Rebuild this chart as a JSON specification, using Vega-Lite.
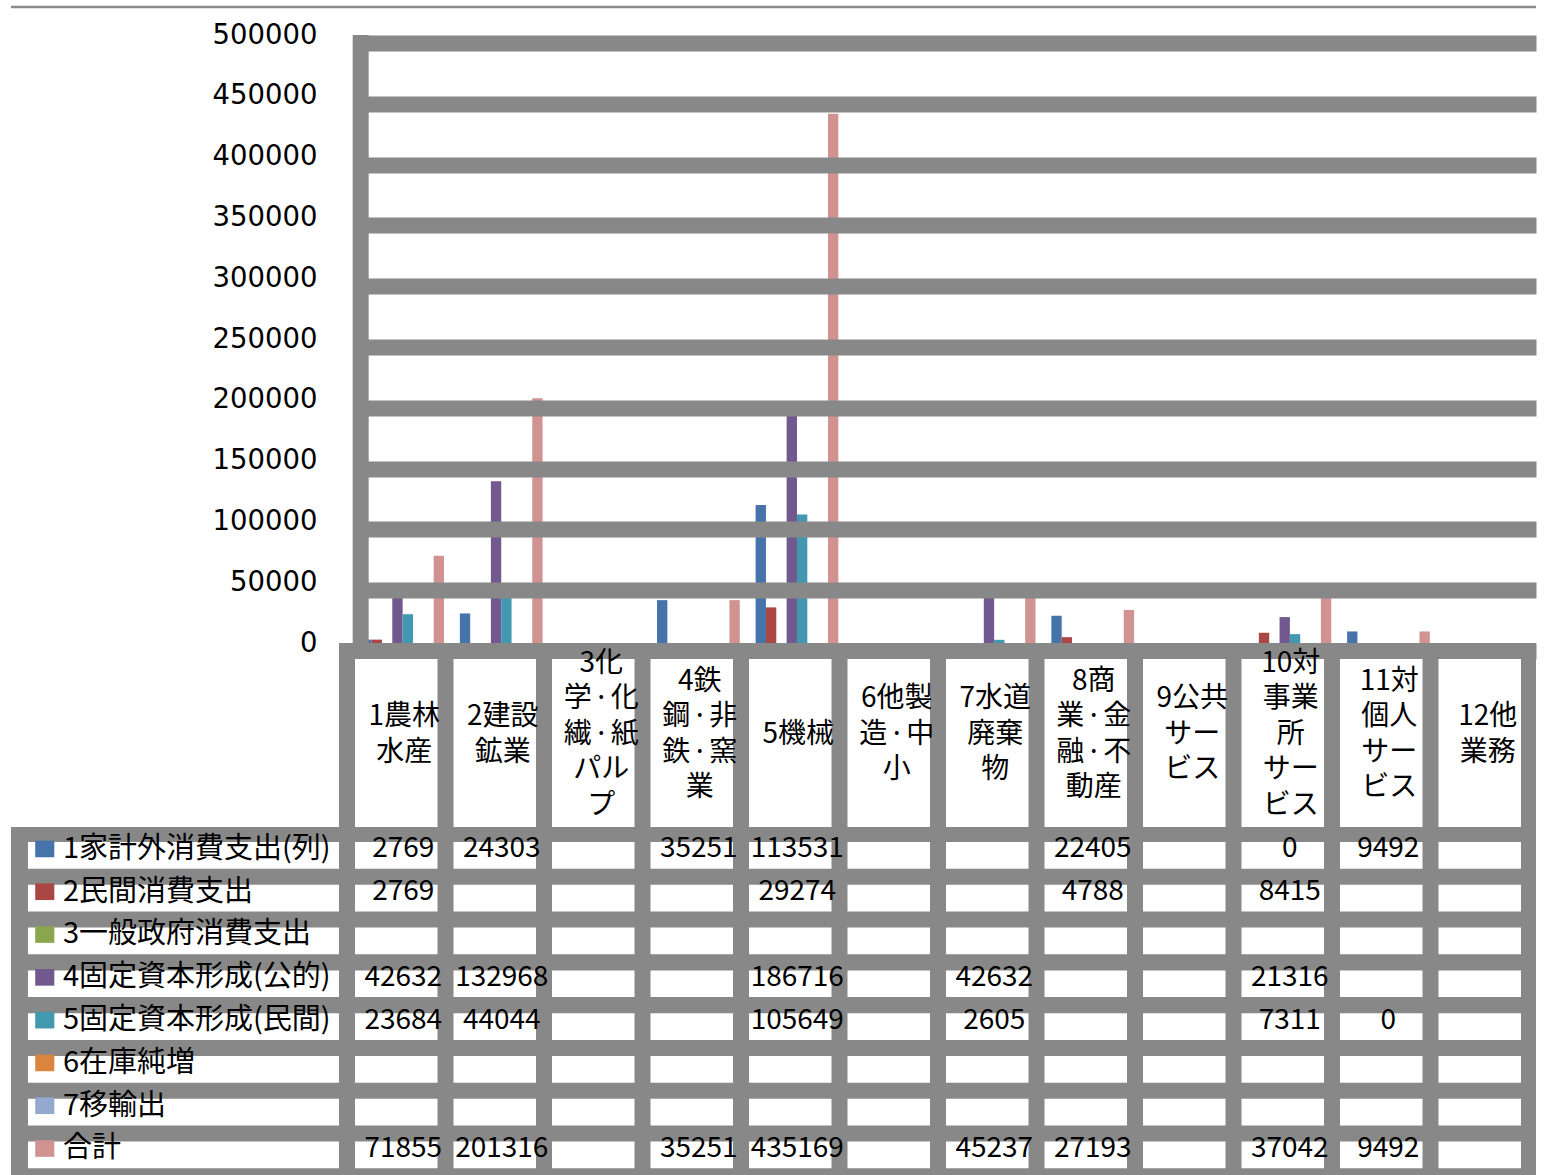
{
  "$schema": "https://vega.github.io/schema/vega-lite/v6.json",
  "padding": {"left": 9, "top": 0, "right": 0, "bottom": 0},
  "background": "white",
  "config": {
    "view": {"stroke": null},
    "font": "Noto Sans CJK JP",
    "text": {"font": "Noto Sans CJK JP", "color": "#000000"}
  },
  "datasets": {
    "series": [
      {"s": "1家計外消費支出(列)"}, {"s": "2民間消費支出"}, {"s": "3一般政府消費支出"}, {"s": "4固定資本形成(公的)"},
      {"s": "5固定資本形成(民間)"}, {"s": "6在庫純増"}, {"s": "7移輸出"}, {"s": "合計"}
    ],
    "cats": [
      {"c": "1農林水産", "label": ["1農林", "水産"]},
      {"c": "2建設鉱業", "label": ["2建設", "鉱業"]},
      {"c": "3化学・化繊・紙パルプ", "label": ["3化", "学\u200a·\u200a化", "繊\u200a·\u200a紙", "パル", "プ"]},
      {"c": "4鉄鋼・非鉄・窯業", "label": ["4鉄", "鋼\u200a·\u200a非", "鉄\u200a·\u200a窯", "業"]},
      {"c": "5機械", "label": ["5機械"]},
      {"c": "6他製造・中小", "label": ["6他製", "造\u200a·\u200a中", "小"]},
      {"c": "7水道廃棄物", "label": ["7水道", "廃棄", "物"]},
      {"c": "8商業・金融・不動産", "label": ["8商", "業\u200a·\u200a金", "融\u200a·\u200a不", "動産"]},
      {"c": "9公共サービス", "label": ["9公共", "サー", "ビス"]},
      {"c": "10対事業所サービス", "label": ["10対", "事業", "所", "サー", "ビス"]},
      {"c": "11対個人サービス", "label": ["11対", "個人", "サー", "ビス"]},
      {"c": "12他業務", "label": ["12他", "業務"]}
    ],
    "table": [
      {"c": "1農林水産", "1家計外消費支出(列)": 2769, "2民間消費支出": 2769, "3一般政府消費支出": null, "4固定資本形成(公的)": 42632, "5固定資本形成(民間)": 23684, "6在庫純増": null, "7移輸出": null, "合計": 71855},
      {"c": "2建設鉱業", "1家計外消費支出(列)": 24303, "2民間消費支出": null, "3一般政府消費支出": null, "4固定資本形成(公的)": 132968, "5固定資本形成(民間)": 44044, "6在庫純増": null, "7移輸出": null, "合計": 201316},
      {"c": "3化学・化繊・紙パルプ", "1家計外消費支出(列)": null, "2民間消費支出": null, "3一般政府消費支出": null, "4固定資本形成(公的)": null, "5固定資本形成(民間)": null, "6在庫純増": null, "7移輸出": null, "合計": null},
      {"c": "4鉄鋼・非鉄・窯業", "1家計外消費支出(列)": 35251, "2民間消費支出": null, "3一般政府消費支出": null, "4固定資本形成(公的)": null, "5固定資本形成(民間)": null, "6在庫純増": null, "7移輸出": null, "合計": 35251},
      {"c": "5機械", "1家計外消費支出(列)": 113531, "2民間消費支出": 29274, "3一般政府消費支出": null, "4固定資本形成(公的)": 186716, "5固定資本形成(民間)": 105649, "6在庫純増": null, "7移輸出": null, "合計": 435169},
      {"c": "6他製造・中小", "1家計外消費支出(列)": null, "2民間消費支出": null, "3一般政府消費支出": null, "4固定資本形成(公的)": null, "5固定資本形成(民間)": null, "6在庫純増": null, "7移輸出": null, "合計": null},
      {"c": "7水道廃棄物", "1家計外消費支出(列)": null, "2民間消費支出": null, "3一般政府消費支出": null, "4固定資本形成(公的)": 42632, "5固定資本形成(民間)": 2605, "6在庫純増": null, "7移輸出": null, "合計": 45237},
      {"c": "8商業・金融・不動産", "1家計外消費支出(列)": 22405, "2民間消費支出": 4788, "3一般政府消費支出": null, "4固定資本形成(公的)": null, "5固定資本形成(民間)": null, "6在庫純増": null, "7移輸出": null, "合計": 27193},
      {"c": "9公共サービス", "1家計外消費支出(列)": null, "2民間消費支出": null, "3一般政府消費支出": null, "4固定資本形成(公的)": null, "5固定資本形成(民間)": null, "6在庫純増": null, "7移輸出": null, "合計": null},
      {"c": "10対事業所サービス", "1家計外消費支出(列)": 0, "2民間消費支出": 8415, "3一般政府消費支出": null, "4固定資本形成(公的)": 21316, "5固定資本形成(民間)": 7311, "6在庫純増": null, "7移輸出": null, "合計": 37042},
      {"c": "11対個人サービス", "1家計外消費支出(列)": 9492, "2民間消費支出": null, "3一般政府消費支出": null, "4固定資本形成(公的)": null, "5固定資本形成(民間)": 0, "6在庫純増": null, "7移輸出": null, "合計": 9492},
      {"c": "12他業務", "1家計外消費支出(列)": null, "2民間消費支出": null, "3一般政府消費支出": null, "4固定資本形成(公的)": null, "5固定資本形成(民間)": null, "6在庫純増": null, "7移輸出": null, "合計": null}
    ]
  },
  "columns": 2,
  "spacing": 0,
  "bounds": "flush",
  "align": "each",
  "resolve": {"scale": {"x": "independent", "y": "independent", "color": "independent"}},
  "concat": [
    {
      "width": 342,
      "height": 643,
      "data": {"values": [{}]},
      "mark": {"type": "rule", "color": "#8a8a8a", "strokeWidth": 2.5},
      "encoding": {
        "y": {"datum": 523000, "type": "quantitative", "scale": {"domain": [0, 528800], "nice": false}, "axis": null}
      }
    },
    {
      "width": 1183,
      "height": 643,
      "layer": [
        {
          "data": {"name": "table"},
          "transform": [
            {"fold": ["1家計外消費支出(列)", "2民間消費支出", "3一般政府消費支出", "4固定資本形成(公的)", "5固定資本形成(民間)", "6在庫純増", "7移輸出", "合計"], "as": ["s", "v"]},
            {"filter": "datum.v != null"}
          ],
          "mark": {"type": "bar"},
          "encoding": {
            "x": {
              "field": "c", "type": "nominal",
              "scale": {"domain": ["1農林水産", "2建設鉱業", "3化学・化繊・紙パルプ", "4鉄鋼・非鉄・窯業", "5機械", "6他製造・中小", "7水道廃棄物", "8商業・金融・不動産", "9公共サービス", "10対事業所サービス", "11対個人サービス", "12他業務"], "paddingInner": 0, "paddingOuter": 0},
              "axis": null
            },
            "xOffset": {
              "field": "s", "type": "nominal",
              "scale": {"domain": ["1家計外消費支出(列)", "2民間消費支出", "3一般政府消費支出", "4固定資本形成(公的)", "5固定資本形成(民間)", "6在庫純増", "7移輸出", "合計"], "paddingInner": 0, "paddingOuter": 0.767, "align": 0.522}
            },
            "y": {
              "field": "v", "type": "quantitative",
              "scale": {"domain": [0, 528800], "nice": false, "zero": true},
              "axis": {
                "values": [0, 50000, 100000, 150000, 200000, 250000, 300000, 350000, 400000, 450000, 500000],
                "format": "d",
                "title": null,
                "grid": true,
                "gridColor": "#888888",
                "gridWidth": 16,
                "gridOpacity": 1,
                "tickOffset": 8,
                "labelOffset": -8,
                "domain": false,
                "ticks": false,
                "tickSize": 0,
                "labelPadding": 36,
                "labelFont": "DejaVu Sans",
                "labelFontSize": 27.5,
                "labelColor": "#000000",
                "zindex": 1
              }
            },
            "color": {
              "field": "s", "type": "nominal",
              "scale": {"domain": ["1家計外消費支出(列)", "2民間消費支出", "3一般政府消費支出", "4固定資本形成(公的)", "5固定資本形成(民間)", "6在庫純増", "7移輸出", "合計"], "range": ["#4674AA", "#AA4643", "#89A54E", "#71588F", "#4198AF", "#DB843D", "#93A9CF", "#D19392"]},
              "legend": null
            }
          }
        },
        {
          "data": {"values": [{}]},
          "mark": {"type": "rule", "color": "#888888", "strokeWidth": 16},
          "encoding": {
            "x": {"datum": "1農林水産", "type": "nominal", "bandPosition": 0.078},
            "y": {"datum": 500000, "type": "quantitative"},
            "y2": {"datum": 0}
          }
        },
        {
          "data": {"values": [{}]},
          "mark": {"type": "rule", "color": "#8a8a8a", "strokeWidth": 2.5},
          "encoding": {"y": {"datum": 523000, "type": "quantitative"}}
        }
      ]
    },
    {
      "width": 342,
      "height": 184,
      "data": {"values": [{}]},
      "mark": {"type": "rule", "color": "#888888", "strokeWidth": 28},
      "encoding": {
        "x": {"datum": 1, "type": "quantitative", "scale": {"domain": [0, 1]}, "axis": null}
      }
    },
    {
      "width": 1183,
      "height": 184,
      "view": {"fill": "#888888"},
      "data": {"name": "cats"},
      "encoding": {
        "x": {
          "field": "c", "type": "nominal",
          "scale": {"domain": ["1農林水産", "2建設鉱業", "3化学・化繊・紙パルプ", "4鉄鋼・非鉄・窯業", "5機械", "6他製造・中小", "7水道廃棄物", "8商業・金融・不動産", "9公共サービス", "10対事業所サービス", "11対個人サービス", "12他業務"], "paddingInner": 0.1624, "paddingOuter": 0.0863, "align": 0.118},
          "axis": null
        },
        "y": {"datum": "h", "type": "nominal", "scale": {"domain": ["h"], "paddingInner": 0, "paddingOuter": 0.0476, "align": 1}, "axis": null}
      },
      "layer": [
        {"mark": {"type": "rect", "color": "white"}},
        {
          "transform": [{"filter": "length(datum.label) == 1"}],
          "mark": {"type": "text", "fontSize": 28, "lineHeight": 35.5, "dx": 8, "dy": -8, "baseline": "middle"},
          "encoding": {"text": {"field": "label"}}
        },
        {
          "transform": [{"filter": "length(datum.label) == 2"}],
          "mark": {"type": "text", "fontSize": 28, "lineHeight": 35.5, "dx": 8, "dy": -25.75, "baseline": "middle"},
          "encoding": {"text": {"field": "label"}}
        },
        {
          "transform": [{"filter": "length(datum.label) == 3"}],
          "mark": {"type": "text", "fontSize": 28, "lineHeight": 35.5, "dx": 8, "dy": -43.5, "baseline": "middle"},
          "encoding": {"text": {"field": "label"}}
        },
        {
          "transform": [{"filter": "length(datum.label) == 4"}],
          "mark": {"type": "text", "fontSize": 28, "lineHeight": 35.5, "dx": 8, "dy": -61.25, "baseline": "middle"},
          "encoding": {"text": {"field": "label"}}
        },
        {
          "transform": [{"filter": "length(datum.label) == 5"}],
          "mark": {"type": "text", "fontSize": 28, "lineHeight": 35.5, "dx": 8, "dy": -79, "baseline": "middle"},
          "encoding": {"text": {"field": "label"}}
        }
      ]
    },
    {
      "width": 342,
      "height": 349,
      "view": {"fill": "#888888"},
      "data": {"name": "series"},
      "layer": [
        {
          "mark": {"type": "rect", "color": "white"},
          "encoding": {
            "x": {"datum": "L", "type": "nominal", "scale": {"domain": ["L"], "paddingInner": 0, "paddingOuter": 0.0498, "align": 0.548}, "axis": null},
            "y": {
              "field": "s", "type": "nominal",
              "scale": {"domain": ["1家計外消費支出(列)", "2民間消費支出", "3一般政府消費支出", "4固定資本形成(公的)", "5固定資本形成(民間)", "6在庫純増", "7移輸出", "合計"], "paddingInner": 0.376, "paddingOuter": 0.265, "align": 0.661},
              "axis": null
            }
          }
        },
        {
          "mark": {"type": "point", "shape": "M-1.15,-1L1.15,-1L1.15,1L-1.15,1Z", "filled": true, "size": 276, "opacity": 1},
          "encoding": {
            "x": {"datum": "L", "type": "nominal", "bandPosition": 0.054},
            "y": {"field": "s", "type": "nominal", "bandPosition": 0.26},
            "color": {
              "field": "s", "type": "nominal",
              "scale": {"domain": ["1家計外消費支出(列)", "2民間消費支出", "3一般政府消費支出", "4固定資本形成(公的)", "5固定資本形成(民間)", "6在庫純増", "7移輸出", "合計"], "range": ["#4674AA", "#AA4643", "#89A54E", "#71588F", "#4198AF", "#DB843D", "#93A9CF", "#D19392"]},
              "legend": null
            }
          }
        },
        {
          "mark": {"type": "text", "align": "left", "fontSize": 29, "dy": -6.5, "baseline": "middle"},
          "encoding": {
            "x": {"datum": "L", "type": "nominal", "bandPosition": 0.1125},
            "y": {"field": "s", "type": "nominal"},
            "text": {"field": "s"}
          }
        }
      ]
    },
    {
      "width": 1183,
      "height": 349,
      "view": {"fill": "#888888"},
      "data": {"name": "table"},
      "transform": [
        {"fold": ["1家計外消費支出(列)", "2民間消費支出", "3一般政府消費支出", "4固定資本形成(公的)", "5固定資本形成(民間)", "6在庫純増", "7移輸出", "合計"], "as": ["s", "v"]}
      ],
      "layer": [
        {
          "mark": {"type": "rect", "color": "white"},
          "encoding": {
            "x": {
              "field": "c", "type": "nominal",
              "scale": {"domain": ["1農林水産", "2建設鉱業", "3化学・化繊・紙パルプ", "4鉄鋼・非鉄・窯業", "5機械", "6他製造・中小", "7水道廃棄物", "8商業・金融・不動産", "9公共サービス", "10対事業所サービス", "11対個人サービス", "12他業務"], "paddingInner": 0.1624, "paddingOuter": 0.0863, "align": 0.118},
              "axis": null
            },
            "y": {
              "field": "s", "type": "nominal",
              "scale": {"domain": ["1家計外消費支出(列)", "2民間消費支出", "3一般政府消費支出", "4固定資本形成(公的)", "5固定資本形成(民間)", "6在庫純増", "7移輸出", "合計"], "paddingInner": 0.376, "paddingOuter": 0.265, "align": 0.661},
              "axis": null
            }
          }
        },
        {
          "transform": [{"filter": "datum.v != null"}],
          "mark": {"type": "text", "fontSize": 28, "dx": 7, "dy": -6, "baseline": "middle"},
          "encoding": {
            "x": {"field": "c", "type": "nominal"},
            "y": {"field": "s", "type": "nominal"},
            "text": {"field": "v", "type": "quantitative", "format": "d"}
          }
        }
      ]
    }
  ]
}
